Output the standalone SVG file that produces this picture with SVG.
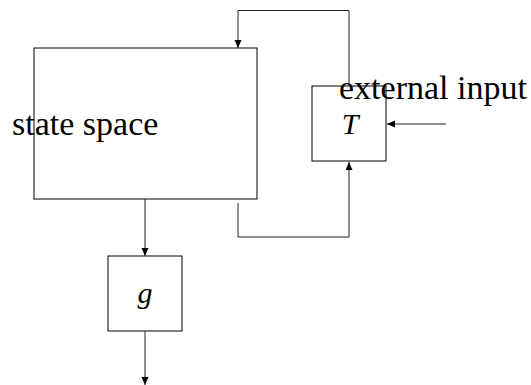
<svg xmlns="http://www.w3.org/2000/svg" width="531" height="385" viewBox="0 0 531 385">
<style>
.box{fill:none;stroke:#000;stroke-width:1}
.ln{fill:none;stroke:#222;stroke-width:1}
.t{font-family:"Liberation Serif","Times New Roman",serif;font-size:34px;fill:#000}
.it{font-style:italic;font-size:30px}
</style>
<defs>
<marker id="ah" markerUnits="userSpaceOnUse" markerWidth="9" markerHeight="8" refX="8" refY="3.5" orient="auto">
<path d="M0,0 L8,3.5 L0,7 z" fill="#000"/>
</marker>
</defs>
<g id="state">
<rect class="box" x="34" y="48" width="223" height="151"/>
<text class="t" x="12" y="135">state space</text>
</g>
<g id="T">
<rect class="box" x="312" y="86" width="74" height="75"/>
<text class="t it" x="350" y="134" text-anchor="middle">T</text>
</g>
<g id="g">
<rect class="box" x="108" y="256" width="74" height="75"/>
<text class="t it" x="145" y="303" text-anchor="middle">g</text>
</g>
<g id="ext">
<text class="t" x="339" y="99">external input</text>
</g>
<g id="connectors">
<path class="ln" d="M349,86 V10.5 H238 V48" marker-end="url(#ah)"/>
<path class="ln" d="M238,203 V237 H349 V162" marker-end="url(#ah)"/>
<path class="ln" d="M446,124 H387" marker-end="url(#ah)"/>
<path class="ln" d="M145,199 V256" marker-end="url(#ah)"/>
<path class="ln" d="M145,331 V385" marker-end="url(#ah)"/>
</g>
</svg>
